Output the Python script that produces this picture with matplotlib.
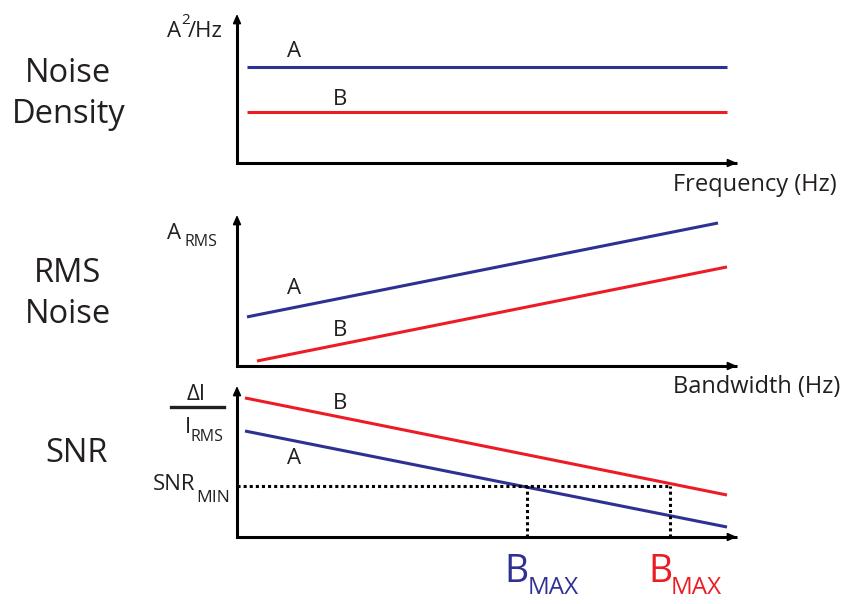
import matplotlib
matplotlib.use("Agg")
import matplotlib.pyplot as plt

# ---------------- data (schematic units: x 0..100, y 0..100 per panel) ----------------
panel_titles = [["Noise", "Density"], ["RMS", "Noise"], ["SNR"]]
x_labels = ["Frequency (Hz)", "Bandwidth (Hz)"]
series_names = ["A", "B"]

density_x = [2.0, 98.0]
density_A = [64.4, 64.4]
density_B = [34.2, 34.2]

rms_A_x = [2.0, 96.2]
rms_A_y = [32.5, 94.7]
rms_B_x = [4.0, 98.0]
rms_B_y = [3.3, 65.6]

snr_x = [1.6, 98.0]
snr_A_y = [70.2, 6.6]
snr_B_y = [92.1, 27.8]

snr_min = 33.8
bmax_A = 58.0
bmax_B = 86.6

# ---------------- style ----------------
W, H = 844, 604
BLUE = "#2e3192"
RED = "#ed1c24"
INK = "#231f20"
LW = 2.2

plt.rcParams["font.family"] = ["Open Sans", "DejaVu Sans"]

fig = plt.figure(figsize=(W / 100, H / 100), dpi=100)


def fx(px):
    return px / W


def fy(py):
    return 1 - py / H


def make_axes(left, top, right, bottom):
    ax = fig.add_axes([fx(left), fy(bottom), (right - left) / W, (bottom - top) / H])
    ax.set_xlim(0, 100)
    ax.set_ylim(0, 100)
    ax.axis("off")
    ax.plot([0, 0, 1], [0.95, 0, 0], transform=ax.transAxes, color="black",
            lw=LW, solid_joinstyle="miter", solid_capstyle="butt", clip_on=False)
    for start, end in [((0, 0.9), (0, 1.0)), ((0.95, 0), (1.0, 0))]:
        ax.annotate("", xy=end, xytext=start, xycoords="axes fraction",
                    arrowprops=dict(arrowstyle="-|>,head_length=0.45,head_width=0.2",
                                    lw=1.2, color="black", shrinkA=0, shrinkB=0,
                                    mutation_scale=12))
    return ax


def ftext(px, py, s, size, color=INK, ha="left", va="baseline"):
    fig.text(fx(px), fy(py), s, fontsize=size, color=color, ha=ha, va=va)


LAB = 16

# ---------------- panel 1: noise density ----------------
ax1 = make_axes(237, 14, 737, 163)
ax1.plot(density_x, density_A, color=BLUE, lw=LW, solid_capstyle="butt")
ax1.plot(density_x, density_B, color=RED, lw=LW, solid_capstyle="butt")
ax1.text(11.5, 74.5, series_names[0], fontsize=LAB, color=INK, ha="center", va="center")
ax1.text(20.7, 42.5, series_names[1], fontsize=LAB, color=INK, ha="center", va="center")

# ---------------- panel 2: RMS noise ----------------
ax2 = make_axes(237, 215, 737, 366)
ax2.plot(rms_A_x, rms_A_y, color=BLUE, lw=LW, solid_capstyle="butt")
ax2.plot(rms_B_x, rms_B_y, color=RED, lw=LW, solid_capstyle="butt")
ax2.text(11.5, 51.3, series_names[0], fontsize=LAB, color=INK, ha="center", va="center")
ax2.text(20.7, 23.5, series_names[1], fontsize=LAB, color=INK, ha="center", va="center")

# ---------------- panel 3: SNR ----------------
ax3 = make_axes(237, 386, 737, 537)
ax3.plot(snr_x, snr_A_y, color=BLUE, lw=LW, solid_capstyle="butt")
ax3.plot(snr_x, snr_B_y, color=RED, lw=LW, solid_capstyle="butt")
ax3.text(20.7, 88.4, series_names[1], fontsize=LAB, color=INK, ha="center", va="center")
ax3.text(11.5, 52.3, series_names[0], fontsize=LAB, color=INK, ha="center", va="center")

dot = dict(color="black", lw=LW, dashes=(1, 1), dash_capstyle="butt", clip_on=False)
ax3.plot([0, bmax_B], [snr_min, snr_min], **dot)
ax3.plot([bmax_A, bmax_A], [0, snr_min], **dot)
ax3.plot([bmax_B, bmax_B], [0, snr_min], **dot)

for bx, col in [(bmax_A, BLUE), (bmax_B, RED)]:
    ax3.annotate("B", xy=(bx, 0), xytext=(2, -45), textcoords="offset pixels",
                 fontsize=27, color=col, ha="right", va="baseline")
    ax3.annotate("MAX", xy=(bx, 0), xytext=(1, -57), textcoords="offset pixels",
                 fontsize=17.5, color=col, ha="left", va="baseline")

# ---------------- left titles ----------------
ftext(68.5, 82, panel_titles[0][0], 23.5, ha="center")
ftext(68.5, 123, panel_titles[0][1], 23.5, ha="center")
ftext(67.5, 282, panel_titles[1][0], 23.5, ha="center")
ftext(68, 323, panel_titles[1][1], 23.5, ha="center")
ftext(76.5, 462, panel_titles[2][0], 23.5, ha="center")

# ---------------- axis labels ----------------
ftext(837, 191, x_labels[0], 17, ha="right")
ftext(840, 393, x_labels[1], 17, ha="right")

# y label panel 1: A^2/Hz
ftext(167, 37, "A", 16)
ftext(181, 24, "2", 11)
ftext(188, 37, "/Hz", 16)
# y label panel 2: A_RMS
ftext(167, 239, "A", 16)
ftext(185, 246, "RMS", 11.5)
# y label panel 3: ΔI / I_RMS
ftext(196, 400, "ΔI", 16, ha="center")
fig.add_artist(plt.Line2D([fx(171), fx(224)], [fy(407), fy(407)], color=INK, lw=2.4))
ftext(185, 433, "I", 16)
ftext(191, 441, "RMS", 11.5)
# SNR_MIN
ftext(153, 490, "SNR", 16)
ftext(196, 502, "MIN", 12.5)

fig.savefig("out.png", dpi=100)
